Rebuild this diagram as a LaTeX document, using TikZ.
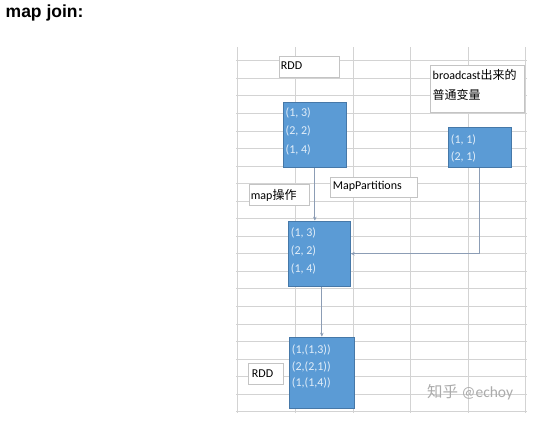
\documentclass[tikz,border=0pt]{standalone}
\usepackage{fontspec}
\setmainfont{Carlito}
\newfontfamily\cjk{Noto Sans CJK SC}
\newfontfamily\titlefont{Liberation Sans}
\usetikzlibrary{arrows.meta}
\definecolor{gridgray}{HTML}{D3D3D3}
\definecolor{boxgray}{HTML}{C4C4C4}
\definecolor{bluefill}{HTML}{5B9BD5}
\definecolor{blueedge}{HTML}{4678A8}
\definecolor{bluetext}{HTML}{E2EEF9}
\definecolor{connc}{HTML}{8C9DB5}
\definecolor{wmark}{HTML}{ABABAB}
\tikzset{
  gridline/.style={draw=gridgray, line width=0.8pt},
  tbox/.style={draw=boxgray, fill=white, line width=0.7pt, anchor=north west, inner sep=0pt},
  bbox/.style={draw=blueedge, fill=bluefill, line width=0.7pt, anchor=north west, inner sep=0pt},
  ttext/.style={anchor=west, inner sep=0pt, text=black, font=\fontsize{12}{20}\selectfont, align=left},
  btext/.style={anchor=west, inner sep=0pt, text=bluetext, align=left},
  conn/.style={draw=connc, line width=0.8pt, -{Stealth[length=4pt,width=3.5pt]}},
}
\begin{document}
\begin{tikzpicture}[x=1pt,y=-1pt]
\useasboundingbox[fill=white] (0,0) rectangle (546,429);
% title
\node[anchor=west, inner sep=0pt, font=\titlefont\bfseries\fontsize{17.5}{19}\selectfont] (title) at (5.5,12.5) {map join:};
% grid
\foreach \gx in {237,295,353,410,468,525} {
  \draw[gridline] (\gx,47) -- (\gx,413);
}
\foreach \k in {0,...,20} {
  \draw[gridline] (236,60.7+17.55*\k) -- (527,60.7+17.55*\k);
}
% white label boxes
\node[tbox, minimum width=60pt, minimum height=21pt] (rddtop) at (279,56) {};
\node[ttext] (rddtopt) at (280.7,66) {RDD};
\node[tbox, minimum width=94pt, minimum height=46.7pt] (bc) at (430,65) {};
\node[ttext] (bct) at (432.5,85) {broadcast{\cjk 出来的}\\{\cjk 普通变量}};
\node[tbox, minimum width=60pt, minimum height=21pt] (mapop) at (249,184) {};
\node[ttext] (mapopt) at (250.7,195) {map{\cjk 操作}};
\node[tbox, minimum width=86.7pt, minimum height=19.4pt] (mp) at (330,177.3) {};
\node[ttext] (mpt) at (332.7,186.7) {MapPartitions};
\node[tbox, minimum width=35pt, minimum height=21.3pt] (rddbot) at (248.3,362.7) {};
\node[ttext] (rddbott) at (251.7,373.3) {RDD};
% blue boxes
\node[bbox, minimum width=62.4pt, minimum height=65.6pt] (b1) at (283.3,101.7) {};
\node[btext, font=\fontsize{12}{18.6}\selectfont] (b1t) at (285.5,131.3) {(1, 3)\\(2, 2)\\(1, 4)};
\node[bbox, minimum width=62.7pt, minimum height=40pt] (b2) at (448,127.3) {};
\node[btext, font=\fontsize{12}{16.7}\selectfont] (b2t) at (450.7,148.3) {(1, 1)\\(2, 1)};
\node[bbox, minimum width=61.7pt, minimum height=65.3pt] (b3) at (288.3,220.7) {};
\node[btext, font=\fontsize{12}{17.7}\selectfont] (b3t) at (290.7,251) {(1, 3)\\(2, 2)\\(1, 4)};
\node[bbox, minimum width=65.6pt, minimum height=71.6pt] (b4) at (288.7,336.7) {};
\node[btext, font=\fontsize{12}{16.7}\selectfont] (b4t) at (291.7,366.7) {(1,(1,3))\\(2,(2,1))\\(1,(1,4))};
% connectors
\draw[conn] (b1.south) -- (b1.south |- b3.north);
\draw[conn] (b2.south) |- (b3.east);
\draw[conn] (b3.south -| b4.north) -- (b4.north);
% watermark
\node[anchor=west, inner sep=0pt, text=wmark, font=\fontsize{15.5}{17}\selectfont] (wm) at (427,392) {{\cjk 知乎} @echoy};
\end{tikzpicture}
\end{document}
